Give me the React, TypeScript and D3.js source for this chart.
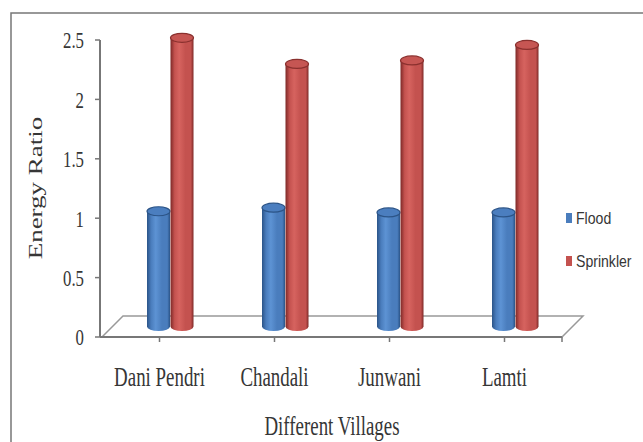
import React from "react";
import * as d3 from "d3";

// Energy ratio of irrigation methods across villages
const categories = ["Dani Pendri", "Chandali", "Junwani", "Lamti"];
const seriesNames = ["Flood", "Sprinkler"];
const flood = [0.97, 1.0, 0.96, 0.96];
const sprinkler = [2.43, 2.21, 2.24, 2.37];
const yTicks = [0, 0.5, 1, 1.5, 2, 2.5];

const W = 643;
const H = 442;

const colors = {
  Flood: { dark: "#2b5488", mid: "#4a7dbd", light: "#5d93d4", top: "#4b7ebf", rim: "#2c5487" },
  Sprinkler: { dark: "#7e2927", mid: "#c4524f", light: "#d6635f", top: "#c65653", rim: "#8a302e" },
};

export default function App() {
  const x = d3.scaleBand<string>().domain(categories).range([102, 562]).padding(0);
  const y = d3.scaleLinear().domain([0, 2.5]).range([337, 40]);

  // floor depth offset (front edge -> back edge)
  const depthX = 21;
  const depthY = -21;
  const midX = depthX / 2;
  const midY = depthY / 2;

  const rx = 11.5;
  const ry = 4.5;

  const floorPts: [number, number][] = [
    [x.range()[0], y(0)],
    [x.range()[1], y(0)],
    [x.range()[1] + depthX, y(0) + depthY],
    [x.range()[0] + depthX, y(0) + depthY],
  ];
  const floorPath = d3.line()(floorPts)! + "Z";

  const cylinder = (cx: number, v: number, name: string, key: string) => {
    const base = y(0) + midY;
    const top = y(v) + midY;
    const c = colors[name as keyof typeof colors];
    const body = `M${cx - rx},${top} L${cx - rx},${base} A${rx},${ry} 0 0 0 ${cx + rx},${base} L${cx + rx},${top} Z`;
    return (
      <g key={key}>
        <path d={body} fill={`url(#grad-${name})`} />
        <ellipse cx={cx} cy={top} rx={rx} ry={ry} fill={c.top} stroke={c.rim} strokeWidth={1.2} />
      </g>
    );
  };

  const serif = "'Liberation Serif', 'Times New Roman', serif";
  const textColor = "#363636";

  return (
    <svg
      width={W}
      height={H}
      style={{ position: "absolute", left: 0, top: 0, background: "#fff" }}
    >
      <defs>
        {seriesNames.map((n) => {
          const c = colors[n as keyof typeof colors];
          return (
            <linearGradient key={n} id={`grad-${n}`} x1="0" x2="1" y1="0" y2="0">
              <stop offset="0%" stopColor={c.dark} />
              <stop offset="18%" stopColor={c.mid} />
              <stop offset="38%" stopColor={c.light} />
              <stop offset="65%" stopColor={c.mid} />
              <stop offset="88%" stopColor={c.mid} />
              <stop offset="100%" stopColor={c.dark} />
            </linearGradient>
          );
        })}
      </defs>

      {/* frame */}
      <rect x={11} y={13} width={700} height={500} fill="none" stroke="#777" strokeWidth={1.5} />

      {/* floor */}
      <path d={floorPath} fill="#fff" stroke="#999" strokeWidth={1.5} />
      <line x1={x.range()[0] - 2} x2={x.range()[1]} y1={y(0)} y2={y(0)} stroke="#777" strokeWidth={2} />

      {/* value axis */}
      <line x1={100} x2={100} y1={y(2.5)} y2={y(0)} stroke="#777" strokeWidth={2} />
      {yTicks.map((t) => (
        <g key={t}>
          <line x1={95} x2={100} y1={y(t)} y2={y(t)} stroke="#777" strokeWidth={1.5} />
          <text
            transform={`translate(84,${y(t)}) scale(0.7,1)`}
            textAnchor="end"
            dy="0.35em"
            fontFamily={serif}
            fontSize={24}
            fill={textColor}
          >
            {String(t)}
          </text>
        </g>
      ))}

      {/* category ticks and labels */}
      {categories.map((cat) => {
        const cx = x(cat)! + x.bandwidth() / 2;
        return (
          <g key={cat}>
            <line x1={cx} x2={cx} y1={y(0)} y2={y(0) + 5} stroke="#777" strokeWidth={1.5} />
            <text
              transform={`translate(${cx},386) scale(0.7,1)`}
              textAnchor="middle"
              fontFamily={serif}
              fontSize={27}
              fill={textColor}
            >
              {cat}
            </text>
          </g>
        );
      })}
      <line x1={x.range()[1]} x2={x.range()[1]} y1={y(0)} y2={y(0) + 5} stroke="#777" strokeWidth={1.5} />

      {/* cylinders */}
      {categories.map((cat, i) => {
        const gc = x(cat)! + x.bandwidth() / 2 + midX;
        return (
          <g key={cat}>
            {cylinder(gc - 11.5, flood[i], "Flood", "f")}
            {cylinder(gc + 12, sprinkler[i], "Sprinkler", "s")}
          </g>
        );
      })}

      {/* axis titles */}
      <text
        transform="translate(332,435) scale(0.7,1)"
        textAnchor="middle"
        fontFamily={serif}
        fontSize={27}
        fill={textColor}
      >
        Different Villages
      </text>
      <text
        transform="translate(42,188) rotate(-90) scale(1,0.72)"
        textAnchor="middle"
        fontFamily={serif}
        fontSize={27}
        fill={textColor}
      >
        Energy Ratio
      </text>

      {/* legend */}
      {seriesNames.map((n, i) => {
        const ly = 218 + i * 43;
        const c = colors[n as keyof typeof colors];
        return (
          <g key={n}>
            <rect x={566} y={ly - 5} width={6} height={10} fill={c.mid} />
            <text
              transform={`translate(576,${ly + 5.5}) scale(0.88,1)`}
              fontFamily="'Liberation Sans', Arial, sans-serif"
              fontSize={16}
              fill={textColor}
            >
              {n}
            </text>
          </g>
        );
      })}
    </svg>
  );
}
